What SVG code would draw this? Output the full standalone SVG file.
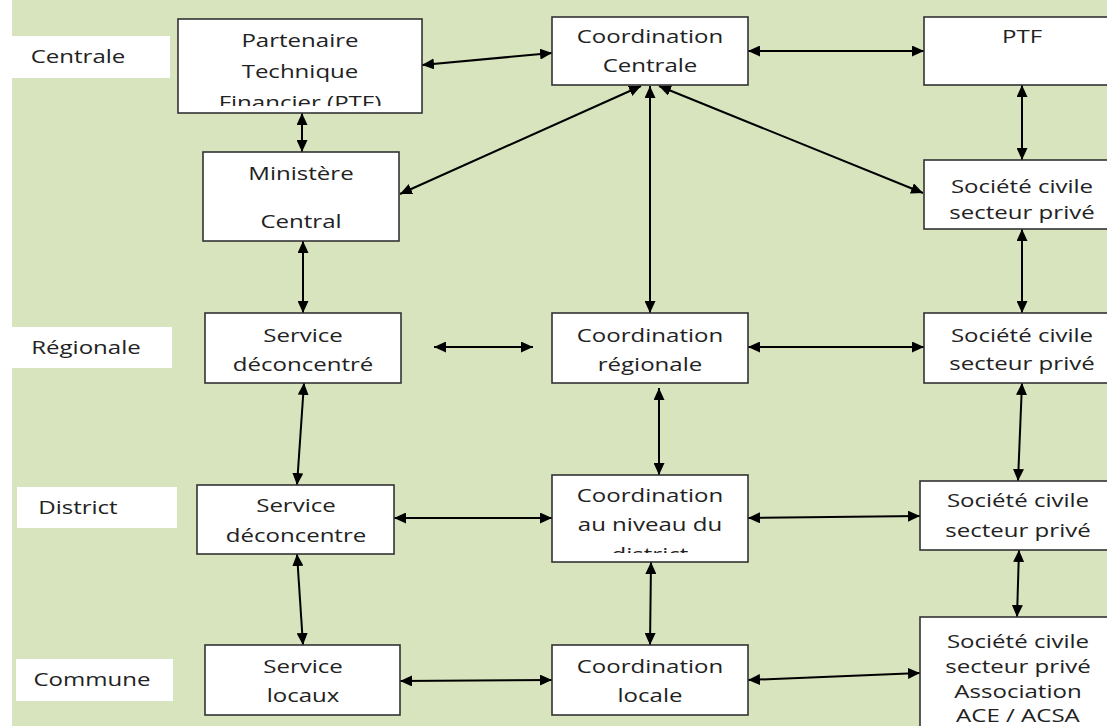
<svg xmlns="http://www.w3.org/2000/svg" width="1107" height="726" viewBox="0 0 1107 726">
<defs>
<style>
.box{fill:#ffffff;stroke:#333333;stroke-width:1.6}
.lbl{fill:#ffffff;stroke:none}
.t{font-family:"Open Sans","Liberation Sans",sans-serif;font-size:18.5px;fill:#222222;text-anchor:middle;transform-box:fill-box;transform-origin:center;transform:scaleX(1.3)}
.c{fill:none;stroke:#000000;stroke-width:2;marker-start:url(#ah);marker-end:url(#ah)}
</style>
<marker id="ah" markerUnits="userSpaceOnUse" markerWidth="12" markerHeight="11" refX="12" refY="5.5" orient="auto-start-reverse" viewBox="0 0 12 11">
<path d="M0,0 L12,5.5 L0,11 z" fill="#000000"/>
</marker>
<clipPath id="clipPTF"><rect x="178" y="19" width="244" height="87"/></clipPath>
<clipPath id="clipDist"><rect x="552" y="475" width="196" height="78"/></clipPath>
</defs>
<rect x="0" y="0" width="1107" height="726" fill="#ffffff"/>
<rect x="12" y="0" width="1095" height="726" fill="#d7e4bd"/>

<g id="levels">
<g id="lvl-centrale"><rect class="lbl" x="12" y="36" width="158" height="42"/><text class="t" x="78" y="63">Centrale</text></g>
<g id="lvl-regionale"><rect class="lbl" x="12" y="327" width="160" height="41"/><text class="t" x="86" y="354">Régionale</text></g>
<g id="lvl-district"><rect class="lbl" x="17" y="487" width="160" height="41"/><text class="t" x="78" y="514">District</text></g>
<g id="lvl-commune"><rect class="lbl" x="16" y="659" width="157" height="42"/><text class="t" x="92" y="686">Commune</text></g>
</g>

<g id="connectors">
<line class="c" x1="422" y1="65" x2="552" y2="53"/>
<line class="c" x1="748" y1="51" x2="924" y2="51"/>
<line class="c" x1="302" y1="113" x2="302" y2="152"/>
<line class="c" x1="1022" y1="85" x2="1022" y2="160"/>
<line class="c" x1="641" y1="86" x2="400" y2="194"/>
<line class="c" x1="659" y1="86" x2="923" y2="193"/>
<line class="c" x1="650" y1="86" x2="650" y2="313"/>
<line class="c" x1="303" y1="241" x2="303" y2="313"/>
<line class="c" x1="1022" y1="229" x2="1022" y2="313"/>
<line class="c" x1="434" y1="347" x2="533" y2="347"/>
<line class="c" x1="748" y1="347" x2="924" y2="347"/>
<line class="c" x1="304" y1="383" x2="297" y2="485"/>
<line class="c" x1="659" y1="388" x2="659" y2="475"/>
<line class="c" x1="1022" y1="383" x2="1018" y2="481"/>
<line class="c" x1="394" y1="518" x2="552" y2="518"/>
<line class="c" x1="748" y1="518" x2="920" y2="516"/>
<line class="c" x1="297" y1="554" x2="303" y2="645"/>
<line class="c" x1="651" y1="562" x2="650" y2="645"/>
<line class="c" x1="1019" y1="550" x2="1017" y2="617"/>
<line class="c" x1="400" y1="681" x2="552" y2="680"/>
<line class="c" x1="748" y1="680" x2="920" y2="673"/>
</g>

<g id="n-partenaire">
<rect class="box" x="178" y="19" width="244" height="94"/>
<g clip-path="url(#clipPTF)">
<text class="t" x="300" y="47">Partenaire</text>
<text class="t" x="300" y="78">Technique</text>
<text class="t" x="300" y="109">Financier (PTF)</text>
</g>
</g>
<g id="n-coord-centrale">
<rect class="box" x="552" y="17" width="196" height="68"/>
<text class="t" x="650" y="43">Coordination</text>
<text class="t" x="650" y="72">Centrale</text>
</g>
<g id="n-ptf">
<rect class="box" x="924" y="17" width="196" height="68"/>
<text class="t" x="1022" y="43">PTF</text>
</g>
<g id="n-ministere">
<rect class="box" x="203" y="152" width="196" height="89"/>
<text class="t" x="301" y="180">Ministère</text>
<text class="t" x="301" y="228">Central</text>
</g>
<g id="n-sc1">
<rect class="box" x="924" y="160" width="196" height="69"/>
<text class="t" x="1022" y="193">Société civile</text>
<text class="t" x="1022" y="219">secteur privé</text>
</g>
<g id="n-service-reg">
<rect class="box" x="205" y="313" width="196" height="70"/>
<text class="t" x="303" y="342">Service</text>
<text class="t" x="303" y="371">déconcentré</text>
</g>
<g id="n-coord-reg">
<rect class="box" x="552" y="313" width="196" height="70"/>
<text class="t" x="650" y="342">Coordination</text>
<text class="t" x="650" y="371">régionale</text>
</g>
<g id="n-sc2">
<rect class="box" x="924" y="313" width="196" height="70"/>
<text class="t" x="1022" y="342">Société civile</text>
<text class="t" x="1022" y="370">secteur privé</text>
</g>
<g id="n-service-dist">
<rect class="box" x="197" y="485" width="197" height="69"/>
<text class="t" x="296" y="512">Service</text>
<text class="t" x="296" y="542">déconcentre</text>
</g>
<g id="n-coord-dist">
<rect class="box" x="552" y="475" width="196" height="87"/>
<g clip-path="url(#clipDist)">
<text class="t" x="650" y="502">Coordination</text>
<text class="t" x="650" y="531">au niveau du</text>
<text class="t" x="650" y="561">district</text>
</g>
</g>
<g id="n-sc3">
<rect class="box" x="920" y="481" width="196" height="69"/>
<text class="t" x="1018" y="507">Société civile</text>
<text class="t" x="1018" y="537">secteur privé</text>
</g>
<g id="n-service-loc">
<rect class="box" x="205" y="645" width="195" height="70"/>
<text class="t" x="303" y="673">Service</text>
<text class="t" x="303" y="702">locaux</text>
</g>
<g id="n-coord-loc">
<rect class="box" x="552" y="645" width="196" height="70"/>
<text class="t" x="650" y="673">Coordination</text>
<text class="t" x="650" y="702">locale</text>
</g>
<g id="n-sc4">
<rect class="box" x="920" y="617" width="196" height="120"/>
<text class="t" x="1018" y="648">Société civile</text>
<text class="t" x="1018" y="673">secteur privé</text>
<text class="t" x="1018" y="698">Association</text>
<text class="t" x="1018" y="722">ACE / ACSA</text>
</g>
</svg>
